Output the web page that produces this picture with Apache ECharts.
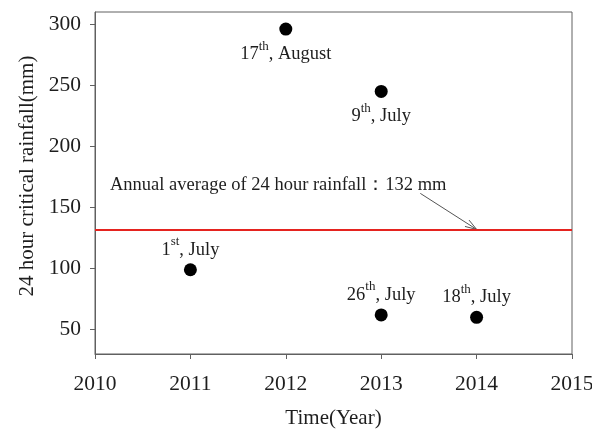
<!DOCTYPE html>
<html>
<head>
<meta charset="utf-8">
<script src="https://cdn.jsdelivr.net/npm/echarts@6/dist/echarts.min.js"></script>
<style>
  html, body { margin: 0; padding: 0; background: #fff; }
  #chart { width: 592px; height: 432px; }
</style>
</head>
<body>
<div id="chart"></div>
<script>
// Critical 24-hour rainfall of each event
const years = [2011, 2012, 2013, 2013, 2014];
const rainfall = [99, 296, 245, 62, 60];
const eventDays = ['1', '17', '9', '26', '18'];
const daySuffix = ['st', 'th', 'th', 'th', 'th'];
const eventMonths = ['July', 'August', 'July', 'July', 'July'];
const labelSide = ['top', 'bottom', 'bottom', 'top', 'top'];

// Annual average of 24 hour rainfall
const annualAverage = 132;
const averageText = 'Annual average of 24 hour rainfall：132 mm';
// Arrow from the note down to the average line: [x0, y0, x1, y1]
const arrowPath = [[2013.41, 161.5, 2014.0, annualAverage]];

// Axes
const xTicks = { min: 2010, max: 2015, interval: 1 };
const yTicks = { min: 30, max: 310, ticks: [50, 100, 150, 200, 250, 300] };
const xTitle = 'Time(Year)';
const yTitle = '24 hour critical rainfall(mm)';

const serif = "'Liberation Serif', 'Times New Roman', serif";
const ink = '#1e1e1e';
const axisGray = '#606060';

const chart = echarts.init(document.getElementById('chart'), null, { renderer: 'canvas' });

const points = years.map((y, i) => ({
  value: [y, rainfall[i]],
  label: {
    position: labelSide[i],
    formatter: '{n|' + eventDays[i] + '}{s|' + daySuffix[i] + '}{n|, ' + eventMonths[i] + '}'
  }
}));

chart.setOption({
  animation: false,
  backgroundColor: '#fff',
  grid: {
    left: 95, right: 20, top: 12, bottom: 78,
    outerBoundsMode: 'none',
    containLabel: false,
    show: true, borderColor: axisGray, borderWidth: 1, backgroundColor: 'transparent'
  },
  xAxis: {
    type: 'value',
    min: xTicks.min, max: xTicks.max, interval: xTicks.interval,
    name: xTitle, nameLocation: 'middle', nameGap: 54,
    nameTextStyle: { fontFamily: serif, fontSize: 21, color: ink },
    axisLine: { show: true, lineStyle: { color: axisGray, width: 1 } },
    axisTick: { show: true, inside: false, length: 5, lineStyle: { color: axisGray } },
    axisLabel: { margin: 19, fontFamily: serif, fontSize: 21.5, color: ink,
      formatter: v => String(v) },
    splitLine: { show: false }
  },
  yAxis: {
    type: 'value',
    min: yTicks.min, max: yTicks.max, interval: 50,
    name: yTitle, nameLocation: 'middle', nameGap: 57,
    nameTextStyle: { fontFamily: serif, fontSize: 21, color: ink, padding: [0, 0, 0, 14] },
    axisLine: { show: true, lineStyle: { color: axisGray, width: 1 } },
    axisTick: { show: true, inside: false, length: 5, lineStyle: { color: axisGray },
      customValues: yTicks.ticks },
    axisLabel: { margin: 14, fontFamily: serif, fontSize: 21.5, color: ink,
      customValues: yTicks.ticks },
    splitLine: { show: false }
  },
  series: [
    {
      type: 'scatter',
      symbol: 'circle',
      symbolSize: 13,
      itemStyle: { color: '#000', opacity: 1 },
      label: {
        show: true,
        distance: 4,
        rich: {
          n: { fontFamily: serif, fontSize: 18.5, color: ink, lineHeight: 24, verticalAlign: 'bottom' },
          s: { fontFamily: serif, fontSize: 13, color: ink, lineHeight: 24, verticalAlign: 'top', padding: [0, 0, 12, 0] }
        }
      },
      data: points,
      markLine: {
        silent: true,
        symbol: 'none',
        label: { show: false },
        lineStyle: { color: '#e5231f', width: 2, type: 'solid', opacity: 1 },
        data: [{ yAxis: annualAverage }]
      },
      z: 3
    },
    {
      type: 'custom',
      silent: true,
      renderItem: function (params, api) {
        const p0 = api.coord([api.value(0), api.value(1)]);
        const p1 = api.coord([api.value(2), api.value(3)]);
        const ang = Math.atan2(p1[1] - p0[1], p1[0] - p0[0]);
        const len = 12, spread = 0.32;
        const h1 = [p1[0] - len * Math.cos(ang - spread), p1[1] - len * Math.sin(ang - spread)];
        const h2 = [p1[0] - len * Math.cos(ang + spread), p1[1] - len * Math.sin(ang + spread)];
        const st = { stroke: '#555', lineWidth: 1, fill: null };
        return {
          type: 'group',
          children: [
            { type: 'line', shape: { x1: p0[0], y1: p0[1], x2: p1[0], y2: p1[1] }, style: st },
            { type: 'polyline', shape: { points: [h1, p1, h2] }, style: st }
          ]
        };
      },
      data: arrowPath,
      z: 4
    }
  ],
  graphic: [
    {
      type: 'text',
      left: 110,
      top: 176,
      style: { text: averageText, font: '18.5px ' + serif, fill: ink }
    }
  ]
});
</script>
</body>
</html>
